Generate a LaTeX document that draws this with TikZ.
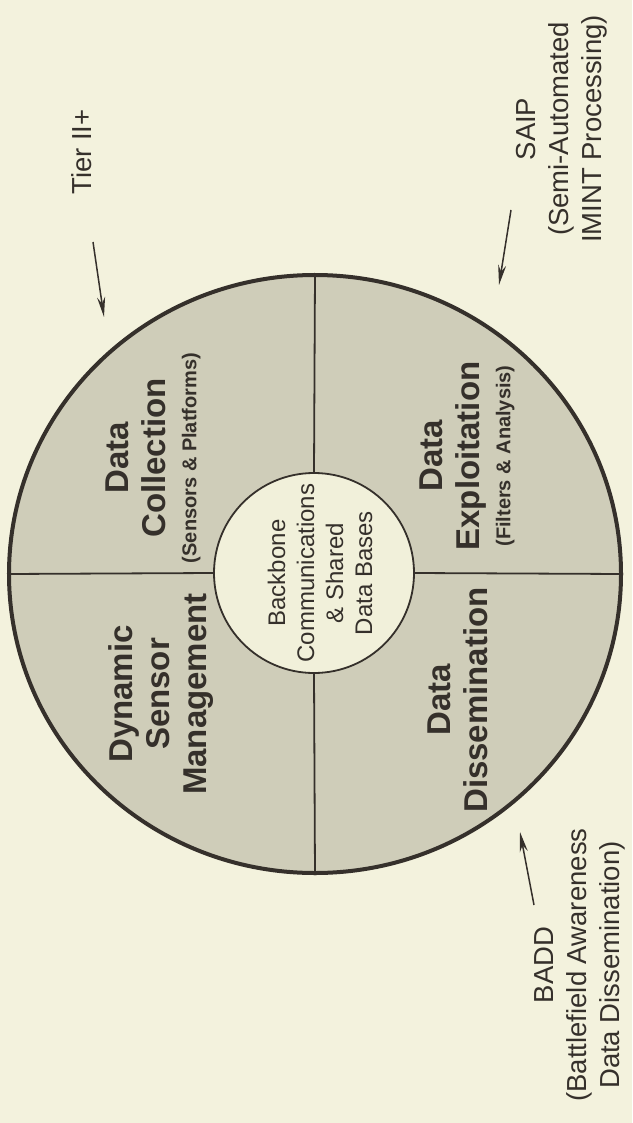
\documentclass[tikz,border=0pt]{standalone}
\usepackage{fontspec}
\setmainfont{Liberation Sans}
\usepackage{tikz}
\usetikzlibrary{arrows.meta,shapes.geometric}
\definecolor{PaperCream}{HTML}{F3F2DD}
\definecolor{SectorGrey}{HTML}{CFCDB9}
\definecolor{HubCream}{HTML}{F1F0DA}
\definecolor{InkDark}{HTML}{35302B}

\begin{document}
\begin{tikzpicture}[
        x=1pt, y=-1pt,
        rim/.style={draw=InkDark, line width=4pt, ellipse, fill=SectorGrey, minimum width=612pt, minimum height=598pt, inner sep=0pt},
        hub/.style={draw=InkDark, line width=1.8pt, circle, fill=HubCream, minimum size=200pt, inner sep=0pt},
        divider/.style={draw=InkDark, line width=1.8pt},
        sector/.style={rotate=90, align=center, text=InkDark, inner sep=0pt, font=\bfseries\fontsize{33}{37}\selectfont},
        hubtext/.style={rotate=90, align=center, text=InkDark, inner sep=0pt, font=\fontsize{24}{29}\selectfont},
        tag/.style={rotate=90, align=center, text=InkDark, inner sep=0pt, font=\fontsize{27.5}{33}\selectfont},
        pointer/.style={-{Stealth[length=20pt,width=8pt]}, line width=1.5pt, draw=InkDark},
    ]
    \useasboundingbox (0,0) rectangle (632,1123);
    \fill[PaperCream] (0,0) rectangle (632,1123);

    \node[rim] (wheel) at (315,574) {};
    \node[hub] (hub) at (314,573) {};

    \draw[divider] (wheel.north) -- (hub.north);
    \draw[divider] (hub.south) -- (wheel.south);
    \draw[divider] (wheel.west) -- (hub.west);
    \draw[divider] (hub.east) -- (wheel.east);

    \node[sector] (collect) at (153,458) {Data\\Collection\\[-6pt]{\fontsize{20}{24}\selectfont (Sensors \& Platforms)}};
    \node[sector] (sensmgmt) at (161,694) {Dynamic\\Sensor\\Management};
    \node[sector] (exploit) at (467,456) {Data\\Exploitation\\[-6pt]{\fontsize{20}{24}\selectfont (Filters \& Analysis)}};
    \node[sector] (dissem) at (458,700) {Data\\Dissemination};
    \node[hubtext] (backbone) at (320,573) {Backbone\\Communications\\\& Shared\\Data Bases};

    \node[tag] (tier) at (82,152) {Tier II+};
    \node[tag] (saip) at (562,129) {SAIP\\(Semi-Automated\\IMINT Processing)};
    \node[tag] (badd) at (580,965) {BADD\\(Battlefield Awareness\\Data Dissemination)};

    \coordinate (tierTail) at (93,242);
    \coordinate (tierTip) at (104,317);
    \coordinate (saipTail) at (511,210);
    \coordinate (saipTip) at (499,285);
    \coordinate (baddTail) at (534,905);
    \coordinate (baddTip) at (520,832);

    \draw[pointer] (tierTail) -- (tierTip);
    \draw[pointer] (saipTail) -- (saipTip);
    \draw[pointer] (baddTail) -- (baddTip);
\end{tikzpicture}
\end{document}
